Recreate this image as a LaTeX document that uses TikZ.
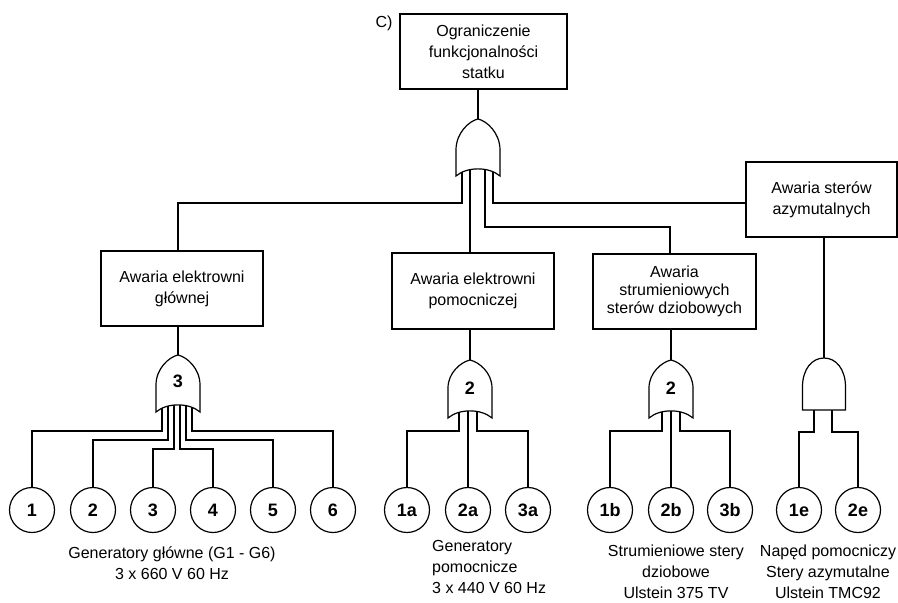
\documentclass[tikz,border=0pt]{standalone}
\usepackage{fontspec}
\setmainfont{Liberation Sans}
\newcommand{\orgate}[4]{% cx, top y, bottom-corner y, side-start y
  \draw[gate] ({#1-22},#3) -- ({#1-22},#4)
    .. controls ({#1-22},{#4-0.55*(#4-#2)}) and ({#1-9},{#2+2}) .. (#1,#2)
    .. controls ({#1+9},{#2+2}) and ({#1+22},{#4-0.55*(#4-#2)}) .. ({#1+22},#4)
    -- ({#1+22},#3)
    .. controls ({#1+11},{#3-9.5}) and ({#1-11},{#3-9.5}) .. cycle;}
\begin{document}
\begin{tikzpicture}[x=1pt,y=-1pt,
  box/.style={draw,line width=1.2pt,inner sep=0pt,align=center,
    font=\fontsize{16}{21}\selectfont},
  ev/.style={circle,draw,line width=1.2pt,minimum size=45pt,inner sep=0pt,
    font=\bfseries\fontsize{18}{18}\selectfont},
  wire/.style={line width=1.2pt},
  gate/.style={line width=1.2pt,fill=white},
  glbl/.style={inner sep=0pt,font=\bfseries\fontsize{18}{18}\selectfont},
  lbl/.style={inner sep=0pt,align=center,font=\fontsize{16}{21}\selectfont}]

\useasboundingbox (0,0) rectangle (898,603);

% ---------- boxes ----------
\node[box,minimum width=167pt,minimum height=75pt] (top) at (483.5,51.5)
  {Ograniczenie\\funkcjonalności\\statku};
\node[inner sep=0pt,font=\fontsize{16}{16}\selectfont] (clbl) at (384,23) {C)};
\node[box,minimum width=162pt,minimum height=75pt] (bg) at (182,288.5)
  {Awaria elektrowni\\głównej};
\node[box,minimum width=162pt,minimum height=76pt] (bp) at (473,291)
  {Awaria elektrowni\\pomocniczej};
\node[box,minimum width=163pt,minimum height=75pt,
  font=\fontsize{16}{18}\selectfont] (bs) at (674.5,291.5)
  {Awaria\\strumieniowych\\sterów dziobowych};
\node[box,minimum width=151pt,minimum height=75pt] (ba) at (821.5,199.5)
  {Awaria sterów\\azymutalnych};

% ---------- basic events ----------
\foreach \n/\x in {1/32,2/93,3/153,4/213,5/273,6/333}
  \node[ev] (c\n) at (\x,510) {\n};
\node[ev] (c1a) at (407,510) {1a};
\node[ev] (c2a) at (468,510) {2a};
\node[ev] (c3a) at (528,510) {3a};
\node[ev] (c1b) at (610,510) {1b};
\node[ev] (c2b) at (671,510) {2b};
\node[ev] (c3b) at (730,510) {3b};
\node[ev] (c1e) at (799,510) {1e};
\node[ev] (c2e) at (858,510) {2e};

% ---------- text labels ----------
\node[lbl] (lg) at (172,563) {Generatory główne (G1 - G6)\\3 x 660 V 60 Hz};
\node[lbl,align=left,anchor=west] (lp) at (432,567)
  {Generatory\\pomocnicze\\3 x 440 V 60 Hz};
\node[lbl] (ls) at (676,572) {Strumieniowe stery\\dziobowe\\Ulstein 375 TV};
\node[lbl] (la) at (828,572)
  {Napęd pomocniczy\\Stery azymutalne\\Ulstein TMC92};

% ---------- gate reference points ----------
\coordinate (t0) at (478,119);
\coordinate (i1) at (462,172);
\coordinate (i2) at (470,170);
\coordinate (i3) at (485,170);
\coordinate (i4) at (493,172);
\coordinate (k1) at (178,203);
\coordinate (k3) at (670,227);

\coordinate (g3) at (178,355);
\coordinate (gp) at (470,360);
\coordinate (gs) at (671,360);
\coordinate (a0) at (824,358);

\coordinate (L1) at (0,431);
\coordinate (L2) at (0,440);
\coordinate (L3) at (0,449);

% ---------- wires ----------
\draw[wire] (top.south -| t0) -- (t0);
\draw[wire] (i1) |- (k1) -- (k1 |- bg.north);
\draw[wire] (i2) -- (i2 |- bp.north);
\draw[wire] (i3) |- (k3) -- (k3 |- bs.north);
\draw[wire] (i4) |- (ba.west |- k1);

\draw[wire] (bg.south -| g3) -- (g3);
\draw[wire] (bp.south -| gp) -- (gp);
\draw[wire] (bs.south -| gs) -- (gs);
\draw[wire] (ba.south -| a0) -- (a0);

% gate 3 inputs
\coordinate (g3a) at (162,404); \coordinate (g3b) at (168,404);
\coordinate (g3c) at (174,404); \coordinate (g3d) at (180,404);
\coordinate (g3e) at (186,404); \coordinate (g3f) at (192,404);
\draw[wire] (g3a) -- (g3a |- L1) -| (c1.north);
\draw[wire] (g3b) -- (g3b |- L2) -| (c2.north);
\draw[wire] (g3c) -- (g3c |- L3) -| (c3.north);
\draw[wire] (g3d) -- (g3d |- L3) -| (c4.north);
\draw[wire] (g3e) -- (g3e |- L2) -| (c5.north);
\draw[wire] (g3f) -- (g3f |- L1) -| (c6.north);

% gate P inputs
\coordinate (gpa) at (459,410); \coordinate (gpb) at (468,410);
\coordinate (gpc) at (477,410);
\draw[wire] (gpa) -- (gpa |- L1) -| (c1a.north);
\draw[wire] (gpb) -- (gpb |- c2a.north);
\draw[wire] (gpc) -- (gpc |- L1) -| (c3a.north);

% gate S inputs
\coordinate (gsa) at (662,410); \coordinate (gsb) at (671,410);
\coordinate (gsc) at (680,410);
\draw[wire] (gsa) -- (gsa |- L1) -| (c1b.north);
\draw[wire] (gsb) -- (gsb |- c2b.north);
\draw[wire] (gsc) -- (gsc |- L1) -| (c3b.north);

% AND gate inputs
\coordinate (gaa) at (814,405); \coordinate (gab) at (832,405);
\coordinate (L4) at (0,432);
\draw[wire] (gaa) -- (gaa |- L4) -| (c1e.north);
\draw[wire] (gab) -- (gab |- L4) -| (c2e.north);

% ---------- gates ----------
\orgate{478}{119}{176}{150}
\orgate{178}{355}{412}{385}
\orgate{470}{360}{418}{388}
\orgate{671}{360}{418}{388}
\draw[gate] (802.5,410) -- (802.5,387)
  .. controls (802.5,369) and (812,358) .. (a0)
  .. controls (836,358) and (845.5,369) .. (845.5,387)
  -- (845.5,410) -- cycle;

\node[glbl] (n3) at (178,381) {3};
\node[glbl] (n2p) at (470,388) {2};
\node[glbl] (n2s) at (671,388) {2};
\end{tikzpicture}
\end{document}
